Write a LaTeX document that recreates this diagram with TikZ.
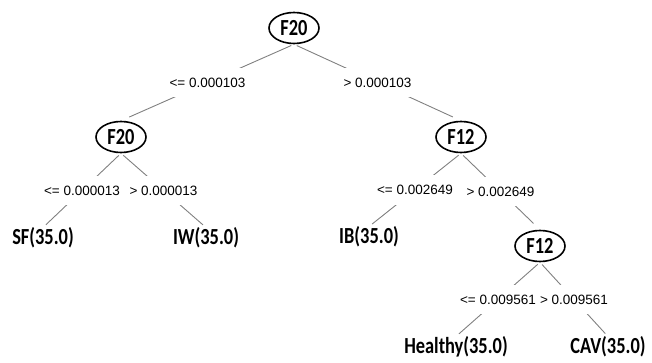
\documentclass[tikz,border=0pt]{standalone}
\usepackage{fontspec}
\usepackage{tikz}
\usetikzlibrary{shapes.geometric, positioning}
\newfontfamily\nodefont[FakeStretch=0.8]{Carlito}
\newfontfamily\condfont{Liberation Sans}
\tikzset{split/.style={ellipse,draw=black,line width=1.6pt,minimum width=50pt,minimum height=31pt,inner sep=0pt,font=\nodefont\bfseries\fontsize{23}{26}\selectfont},
  leaf/.style={inner sep=0pt,font=\nodefont\bfseries\fontsize{23}{26}\selectfont},
  cond/.style={fill=white,inner xsep=2pt,inner ysep=10pt,font=\condfont\fontsize{13.5}{15}\selectfont},
  branch/.style={draw=gray,line width=0.9pt,shorten <=3pt,shorten >=9pt}}
\begin{document}
\begin{tikzpicture}[x=1pt,y=-1pt]
      \useasboundingbox (0,0) rectangle (652,363);
      \node[split] (root) at (294,28) {F20};
      \node[split] (f20) at (121,137) {F20};
      \node[split] (f12) at (461,137) {F12};
      \node[split] (f12b) at (540,246) {F12};

      \node[leaf] (sf) at (43,238) {SF(35.0)};
      \node[leaf] (iw) at (206,238) {IW(35.0)};
      \node[leaf] (ib) at (369,237) {IB(35.0)};
      \node[leaf] (healthy) at (456,347) {Healthy(35.0)};
      \node[leaf] (cav) at (608,347) {CAV(35.0)};

      \draw[branch] (root.south) -- (f20.north) node[cond,midway] {<= 0.000103};
      \draw[branch] (root.south) -- (f12.north) node[cond,midway] {> 0.000103};
      \draw[branch,shorten >=4pt] (f20.south) -- (sf.north) node[cond,midway] {<= 0.000013};
      \draw[branch,shorten >=4pt] (f20.south) -- (iw.north) node[cond,midway] {> 0.000013};
      \draw[branch,shorten >=4pt] (f12.south) -- (ib.north) node[cond,midway] {<= 0.002649};
      \draw[branch] (f12.south) -- (f12b.north) node[cond,midway] {> 0.002649};
      \draw[branch,shorten >=4pt] (f12b.south) -- (healthy.north) node[cond,midway] {<= 0.009561};
      \draw[branch,shorten >=4pt] (f12b.south) -- (cav.north) node[cond,midway] {> 0.009561};
  \end{tikzpicture}
\end{document}
